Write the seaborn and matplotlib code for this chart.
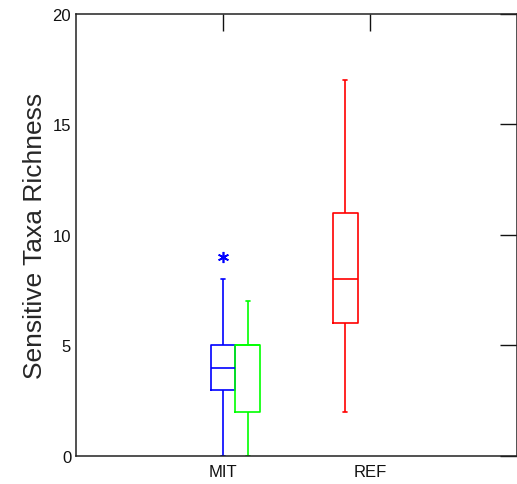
import matplotlib
matplotlib.use("Agg")
import matplotlib.pyplot as plt
import numpy as np
import pandas as pd
import seaborn as sns

# categories on the x axis
groups = ["MIT", "REF"]

# raw values read so the box stats match the picture
mit_blue = [0, 3, 3, 4, 4, 5, 5, 8, 9]
mit_green = [0, 2, 2, 5, 5, 5, 7]
ref_red = [2, 6, 6, 8, 11, 11, 17]

series = [("MIT", "blue", mit_blue),
          ("MIT", "green", mit_green),
          ("REF", "red", ref_red)]
offsets = {"blue": 0.0, "green": 0.17, "red": -0.17}
colors = {"blue": "#0000FF", "green": "#00FF00", "red": "#FF0000"}

rows = []
for grp, name, vals in series:
    for v in vals:
        rows.append({"pos": groups.index(grp) + offsets[name],
                     "series": name, "value": v})
df = pd.DataFrame(rows)

sns.set_style("white")
plt.rcParams["font.family"] = ["Liberation Sans", "DejaVu Sans"]

fig = plt.figure(figsize=(5.17, 4.85), dpi=100)
ax = fig.add_axes([0.147, 0.0577, 0.853, 0.912])

sns.boxplot(data=df, x="pos", y="value", hue="series", palette=colors,
            native_scale=True, fill=False, width=1.0, linewidth=1.2,
            legend=False, ax=ax, capwidths=0.03,
            flierprops=dict(marker=(6, 2, 0), markersize=8,
                            markeredgewidth=1.2))

ax.set_xlim(-1, 2)
ax.set_ylim(0, 20)
ax.set_xticks(range(len(groups)))
ax.set_xticklabels(groups)
ax.set_yticks([0, 5, 10, 15, 20])
ax.set_xlabel("")
ax.set_ylabel("Sensitive Taxa Richness", fontsize=19, labelpad=4)
ax.tick_params(direction="in", top=True, right=True, length=12,
               width=1, labelsize=12, colors="#111111")
ax.tick_params(axis="x", pad=6)
for sp in ax.spines.values():
    sp.set_visible(True)
    sp.set_color("#222222")
    sp.set_linewidth(1.1)

fig.savefig("out.png", dpi=100)
